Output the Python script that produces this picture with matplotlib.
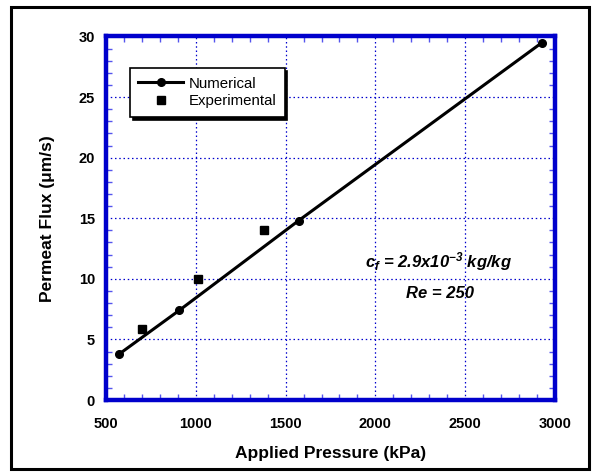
import numpy as np
import matplotlib.pyplot as plt
from matplotlib.ticker import MultipleLocator
from matplotlib.patches import Rectangle

# veriler
num_pressure = [574, 908, 1572, 2928]
num_flux = [3.8, 7.4, 14.8, 29.5]
exp_pressure = [698, 1010, 1378]
exp_flux = [5.9, 10.0, 14.0]

plt.rcParams['font.family'] = ['Liberation Sans', 'DejaVu Sans']
plt.rcParams['mathtext.fontset'] = 'custom'
plt.rcParams['mathtext.rm'] = 'Liberation Sans:bold:italic'
plt.rcParams['mathtext.it'] = 'Liberation Sans:bold:italic'
plt.rcParams['mathtext.bf'] = 'Liberation Sans:bold:italic'
blue = '#0000cc'

fig = plt.figure(figsize=(5.94, 4.73), dpi=100)
fig.patches.append(Rectangle((11 / 594, 4 / 473), 578 / 594, 462 / 473,
                             transform=fig.transFigure, fill=False,
                             edgecolor='black', linewidth=2.2))
ax = fig.add_axes([106 / 594, 1 - 400 / 473, 449 / 594, 363.5 / 473])

ax.plot(num_pressure, num_flux, '-o', color='black', lw=2.2, ms=5.5,
        label='Numerical', zorder=3)
ax.plot(exp_pressure, exp_flux, 's', color='black', ms=5.5,
        label='Experimental', zorder=3)

ax.set_xlim(500, 3000)
ax.set_ylim(0, 30)
ax.xaxis.set_major_locator(MultipleLocator(500))
ax.xaxis.set_minor_locator(MultipleLocator(100))
ax.yaxis.set_major_locator(MultipleLocator(5))
ax.yaxis.set_minor_locator(MultipleLocator(1))
ax.grid(True, which='major', color=blue, linestyle=(0, (1.2, 2.2)), lw=0.9)
ax.tick_params(which='both', direction='in', color='#5555ee',
               top=True, right=True, labelsize=10.5)
ax.tick_params(axis='x', pad=12)
ax.tick_params(axis='y', pad=8)
ax.tick_params(which='major', length=0)
ax.tick_params(which='minor', length=4, width=1)
for lbl in ax.get_xticklabels() + ax.get_yticklabels():
    lbl.set_fontweight('bold')
for s in ax.spines.values():
    s.set_color(blue)
    s.set_linewidth(3.2)

ax.set_xlabel('Applied Pressure (kPa)', fontsize=12.5, fontweight='bold', labelpad=11)
ax.set_ylabel('Permeat Flux (\u03bcm/s)', fontsize=12.5, fontweight='bold', labelpad=17)

leg = ax.legend(loc='upper left', bbox_to_anchor=(24 / 449, 1 - 32 / 363.5),
                fontsize=10.8, frameon=True, fancybox=False,
                shadow={'color': 'black', 'alpha': 1},
                edgecolor='black', borderpad=0.55, handlelength=3.0,
                labelspacing=0.25, handletextpad=0.35, borderaxespad=0)
leg.get_frame().set_linewidth(1.2)

ax.text(2349, 11.4, r'$c_f$ = 2.9x10$^{-3}$ kg/kg',
        fontsize=12, fontweight='bold', style='italic', ha='center', va='center')
ax.text(2362, 8.8, 'Re = 250', fontsize=12, fontweight='bold',
        style='italic', ha='center', va='center')

fig.savefig('out.png', dpi=100)
